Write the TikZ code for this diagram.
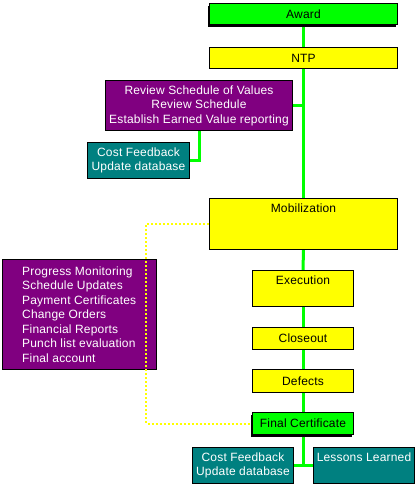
\documentclass[tikz,border=0pt]{standalone}
\usepackage{fontspec}
\setmainfont[LetterSpace=1.5]{Liberation Sans}
\usetikzlibrary{shadows,backgrounds}
\definecolor{lgreen}{RGB}{0,255,0}
\definecolor{yel}{RGB}{255,255,0}
\definecolor{purp}{RGB}{128,0,128}
\definecolor{tealc}{RGB}{0,128,128}
\newcommand\dgfont{\fontsize{12}{14.5}\selectfont}
\tikzset{
  box/.style={draw=black, line width=1pt, inner sep=0pt, anchor=north west, font=\dgfont, align=center},
  ybox/.style={box, fill=yel, text=black},
  gbox/.style={box, fill=lgreen, text=black,
     drop shadow={shadow xshift=-2pt, shadow yshift=-2pt, fill=black, opacity=1}},
  pbox/.style={box, fill=purp, text=white},
  tbox/.style={box, fill=tealc, text=white},
  btext/.style={font=\dgfont, inner sep=0pt, text=black},
  wtext/.style={font=\dgfont, inner sep=0pt, text=white},
  gline/.style={draw=lgreen, line width=3pt},
  yline/.style={draw=yel, line width=2pt, dash pattern=on 2pt off 2pt},
}
\begin{document}
\begin{tikzpicture}[x=1pt,y=-1pt]
\useasboundingbox (0,0) rectangle (416,485);
% boxes
\node[gbox, minimum width=188pt, minimum height=21pt] (award) at (209,3) {Award};
\node[ybox, minimum width=188pt, minimum height=21pt] (ntp) at (209,47) {NTP};
\node[pbox, minimum width=187pt, minimum height=50pt] (rsv) at (105,80)
  {Review Schedule of Values\\Review Schedule\\Establish Earned Value reporting};
\node[tbox, minimum width=102pt, minimum height=36pt] (cfa) at (87,142)
  {Cost Feedback\\Update database};
\node[ybox, minimum width=188pt, minimum height=51pt] (mob) at (209,198) {};
\node[btext] (mobt) at ([yshift=-10pt]mob.north) {Mobilization};
\node[pbox, minimum width=154pt, minimum height=110pt] (pm) at (2,259) {};
\node[wtext, anchor=west, align=left] (pmt) at ([xshift=20pt]pm.west)
  {Progress Monitoring\\Schedule Updates\\Payment Certificates\\Change Orders\\Financial Reports\\Punch list evaluation\\Final account};
\node[ybox, minimum width=101pt, minimum height=36pt] (exec) at (252,270) {};
\node[btext] (exect) at ([yshift=-10pt]exec.north) {Execution};
\node[ybox, minimum width=101pt, minimum height=22pt] (close) at (252,327) {Closeout};
\node[ybox, minimum width=101pt, minimum height=23pt] (def) at (252,369) {Defects};
\node[gbox, minimum width=101pt, minimum height=22pt] (fin) at (252,412) {Final Certificate};
\node[tbox, minimum width=101pt, minimum height=36pt] (cfb) at (192,447)
  {Cost Feedback\\Update database};
\node[tbox, minimum width=101pt, minimum height=36pt] (ll) at (313,447) {};
\node[wtext] (llt) at ([yshift=-10pt]ll.north) {Lessons Learned};
% connectors
\begin{scope}[on background layer]
\draw[gline] (award.south) -- (ntp.north);
\draw[gline] (ntp.south) -- (mob.north);
\draw[gline] (rsv.east) -- (rsv.east -| ntp.south);
\draw[gline] (rsv.south) |- (cfa.east);
\draw[gline] (mob.south) -- (exec.north);
\draw[gline] (exec.south) -- (close.north);
\draw[gline] (close.south) -- (def.north);
\draw[gline] (def.south) -- (fin.north);
\draw[gline] (fin.south) -- (fin.south |- cfb.east);
\draw[gline] (cfb.east) -- (ll.west);
\end{scope}
\draw[yline, shorten >=2.5pt] (mob.west) -- ++(-63,0) |- (fin.west);
\end{tikzpicture}
\end{document}
